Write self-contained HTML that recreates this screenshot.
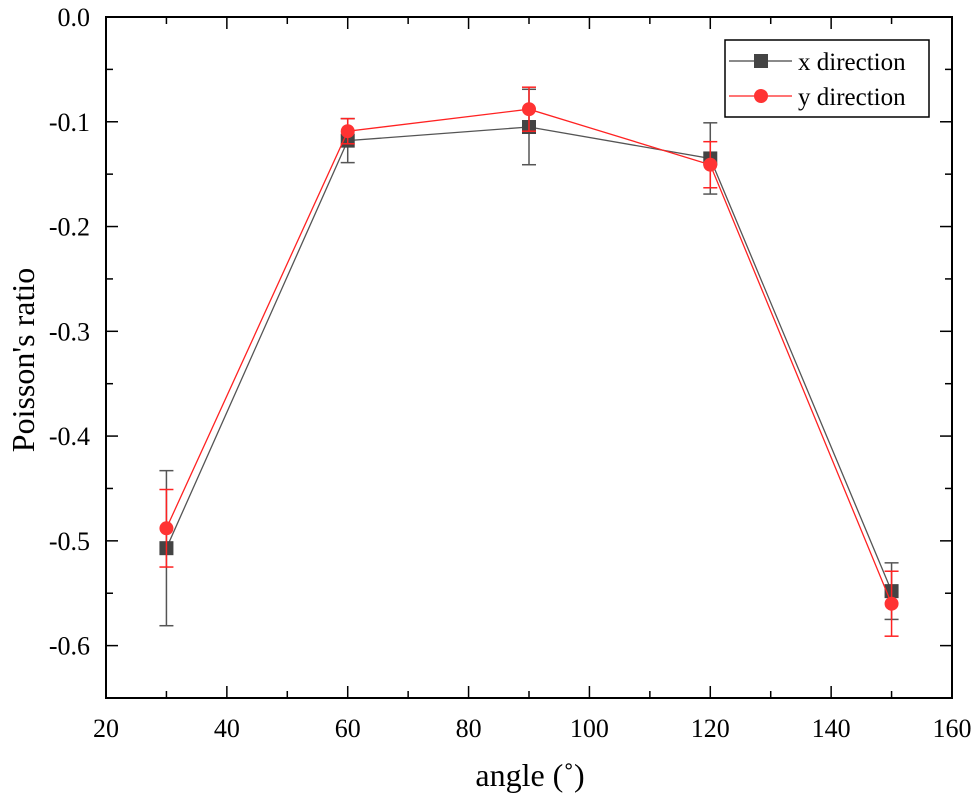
<!DOCTYPE html>
<html><head><meta charset="utf-8"><style>
body{margin:0;background:#fff}
svg, svg text{font-family:"Liberation Serif","DejaVu Serif",serif}
</style></head><body>
<svg id="chart" width="975" height="805" viewBox="0 0 975 805" font-family="Liberation Serif, serif">
<g id="axes"></g>
<g id="series"></g>
<g>
<rect x="725" y="40" width="204" height="77" fill="#fff" stroke="#000" stroke-width="1.5"/>
<g>
<line x1="729" y1="61" x2="792" y2="61" stroke="#444" stroke-width="1.3"/>
<rect x="754" y="54" width="14" height="14" fill="#444"/>
<text x="798" y="70" font-size="25" font-family="Liberation Serif, serif" fill="#000">x direction</text>
</g>
<g>
<line x1="729" y1="96" x2="792" y2="96" stroke="#f22" stroke-width="1.3"/>
<circle cx="761" cy="96" r="7" fill="#f33"/>
<text x="798" y="105" font-size="25" font-family="Liberation Serif, serif" fill="#000">y direction</text>
</g>
</g>
<text x="530" y="786" font-size="32" font-family="Liberation Serif, serif" text-anchor="middle">angle (˚)</text>
<text transform="translate(34,360) rotate(-90)" font-size="32" font-family="Liberation Serif, serif" text-anchor="middle">Poisson's ratio</text>
</svg>
<script>
const angles=[30,60,90,120,150];
const xDir=[-0.507,-0.118,-0.105,-0.135,-0.548];
const xErr=[0.074,0.021,0.036,0.034,0.027];
const yDir=[-0.488,-0.109,-0.088,-0.141,-0.560];
const yErr=[0.037,0.012,0.021,0.022,0.031];
const xTicks=[20,40,60,80,100,120,140,160];
const yTicks=[0,-0.1,-0.2,-0.3,-0.4,-0.5,-0.6];
const L=106,R=952,T=17,B=698;
const sx=v=>L+(v-20)/140*(R-L);
const sy=v=>T+(0-v)/0.65*(B-T);
const NS='http://www.w3.org/2000/svg';
function mk(t,a,p){const e=document.createElementNS(NS,t);for(const k in a)e.setAttribute(k,a[k]);p.appendChild(e);return e;}
const ax=document.getElementById('axes');
const frame=mk('rect',{x:L,y:T,width:R-L,height:B-T,fill:'none',stroke:'#000','stroke-width':2},ax);


for(let v=20;v<=160;v+=10){
  const major=v%20===0,len=major?12:7,x=sx(v);
  mk('line',{x1:x,y1:B,x2:x,y2:B-len,stroke:'#000','stroke-width':1.5},ax);
  mk('line',{x1:x,y1:T,x2:x,y2:T+len,stroke:'#000','stroke-width':1.5},ax);
}
xTicks.forEach(v=>{const t=mk('text',{x:sx(v),y:B+39,'font-size':26,'font-family':'Liberation Serif, serif','text-anchor':'middle'},ax);t.textContent=v;

});
for(let i=0;i<=13;i++){
  const v=-i*0.05,major=i%2===0,len=major?12:7,y=sy(v);
  mk('line',{x1:L,y1:y,x2:L+len,y2:y,stroke:'#000','stroke-width':1.5},ax);
  mk('line',{x1:R,y1:y,x2:R-len,y2:y,stroke:'#000','stroke-width':1.5},ax);
}
yTicks.forEach(v=>{const t=mk('text',{x:L-16,y:sy(v)+9,'font-size':26,'font-family':'Liberation Serif, serif','text-anchor':'end'},ax);t.textContent=v===0?'0.0':v.toFixed(1);

});
const sg=document.getElementById('series');
function series(vals,errs,color,lineColor,shape,name){
  const g=mk('g',{},sg);
  
  
  mk('polyline',{points:angles.map((a,i)=>sx(a)+','+sy(vals[i])).join(' '),fill:'none',stroke:lineColor,'stroke-width':1.3},g);
  angles.forEach((a,i)=>{
    const x=sx(a),y1=sy(vals[i]+errs[i]),y2=sy(vals[i]-errs[i]);
    const eb=mk('g',{stroke:lineColor,'stroke-width':1.5},g);
    
    
    mk('line',{x1:x,y1:y1,x2:x,y2:y2},eb);
    mk('line',{x1:x-7,y1:y1,x2:x+7,y2:y1},eb);
    mk('line',{x1:x-7,y1:y2,x2:x+7,y2:y2},eb);
    let m;
    if(shape==='sq')m=mk('rect',{x:x-7,y:sy(vals[i])-7,width:14,height:14,fill:color},g);
    else m=mk('circle',{cx:x,cy:sy(vals[i]),r:7,fill:color},g);
    
    
  });
}
series(xDir,xErr,'#444','#555','sq','series-x-direction');
series(yDir,yErr,'#f33','#f22','ci','series-y-direction');
</script>
</body></html>
